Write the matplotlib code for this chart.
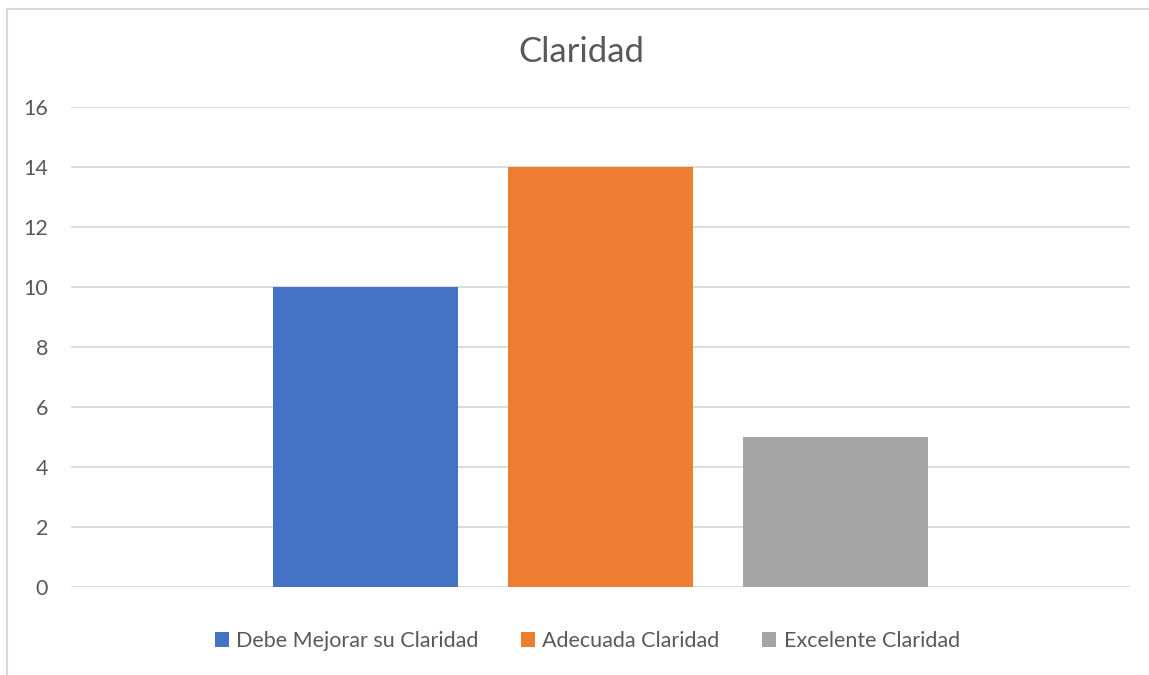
import matplotlib.pyplot as plt
from matplotlib.lines import Line2D

plt.rcParams['font.family'] = ['Lato', 'DejaVu Sans']

series = ['Debe Mejorar su Claridad', 'Adecuada Claridad', 'Excelente Claridad']
values = [10, 14, 5]
colors = ['#4472C4', '#ED7D31', '#A5A5A5']
yticks = [0, 2, 4, 6, 8, 10, 12, 14, 16]

fig = plt.figure(figsize=(11.49, 6.75), dpi=100)
ax = fig.add_axes([71 / 1149, 88 / 675, 1059 / 1149, 480 / 675])

positions = [-1, 0, 1]
for pos, val, col, name in zip(positions, values, colors, series):
    ax.bar(pos, val, width=0.79, color=col, label=name, zorder=3)

ax.set_xlim(-2.255, 2.255)
ax.set_ylim(0, 16)
ax.set_yticks(yticks)
ax.set_xticks([])
ax.grid(axis='y', color='#D9D9D9', linewidth=1.3, zorder=0)
for s in ax.spines.values():
    s.set_visible(False)
ax.tick_params(axis='y', length=0, pad=16.5, labelsize=15.5, labelcolor='#595959')

fig.text(0.506, 1 - 52 / 675, 'Claridad', ha='center', va='center',
         fontsize=25, color='#595959')

fig.legend(loc='center', bbox_to_anchor=(0.511, 1 - 641 / 675), ncol=3,
           frameon=False, fontsize=15.5, labelcolor='#595959',
           handlelength=0.65, handleheight=0.65, handletextpad=0.33,
           columnspacing=2.0)

# chart border (light gray, left and top visible)
fig.add_artist(Line2D([6.5 / 1149, 6.5 / 1149], [0, 1 - 8.5 / 675],
                      transform=fig.transFigure, color='#D9D9D9', linewidth=1.5))
fig.add_artist(Line2D([6.5 / 1149, 1], [1 - 8.5 / 675, 1 - 8.5 / 675],
                      transform=fig.transFigure, color='#D9D9D9', linewidth=1.5))

fig.savefig('out.png', dpi=100)
